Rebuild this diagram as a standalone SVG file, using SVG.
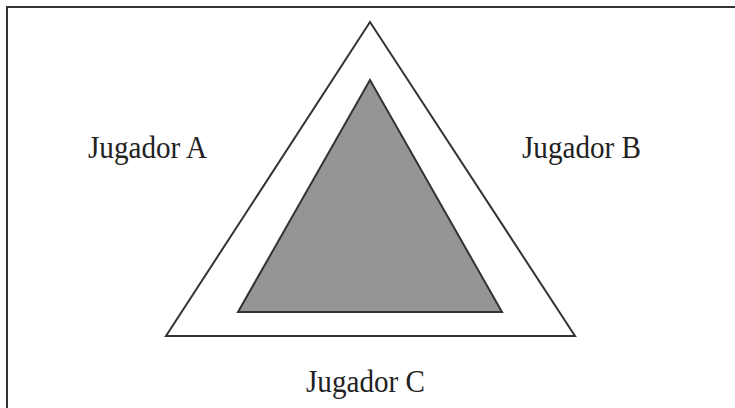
<svg xmlns="http://www.w3.org/2000/svg" width="735" height="408" viewBox="0 0 735 408">
<style>
.lbl{font-family:"Liberation Serif","Times New Roman",serif;font-size:31px;fill:#222}
.tri{stroke:#333;stroke-width:2;stroke-linejoin:miter}
</style>
<rect width="735" height="408" fill="#fff"/>
<g id="frame"><path d="M7,408 V7 H735" fill="none" stroke="#333" stroke-width="2"/></g>
<g id="outer"><polygon class="tri" points="370,22 166,336 575,336" fill="#fff"/></g>
<g id="inner"><polygon class="tri" points="370,80 238,312 502,312" fill="#959595" stroke-width="1.6"/></g>
<g id="labelA"><text class="lbl" x="88" y="158" textLength="119" lengthAdjust="spacingAndGlyphs">Jugador A</text></g>
<g id="labelB"><text class="lbl" x="522" y="158" textLength="119" lengthAdjust="spacingAndGlyphs">Jugador B</text></g>
<g id="labelC"><text class="lbl" x="306" y="392" textLength="119" lengthAdjust="spacingAndGlyphs">Jugador C</text></g>
</svg>
